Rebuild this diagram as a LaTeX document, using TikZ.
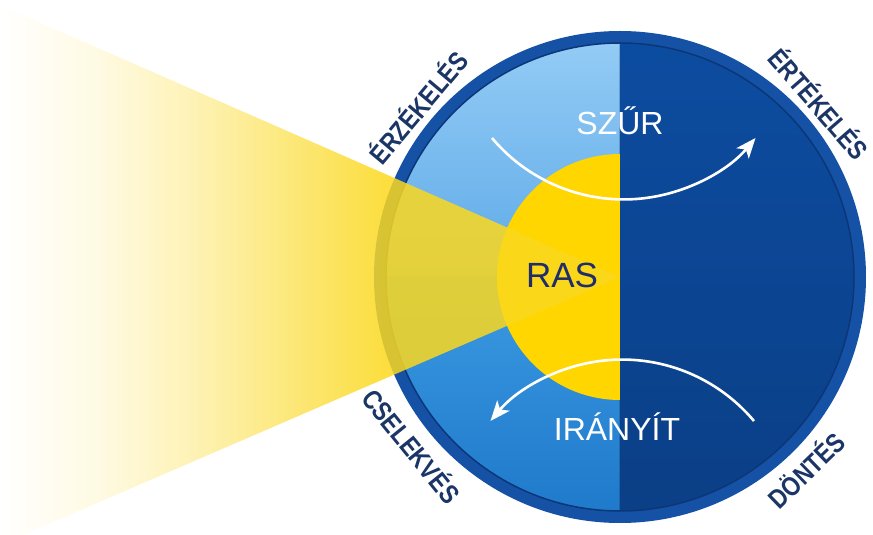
\documentclass[tikz,border=0pt]{standalone}
\usepackage{fontspec}
\setmainfont{Liberation Sans}
\newfontfamily\lblfont[FakeStretch=0.84]{Liberation Sans}
\usetikzlibrary{arrows.meta}

\definecolor{ringblue}{HTML}{1552A6}
\definecolor{ringdark}{HTML}{0B3778}
\definecolor{ulblue1}{HTML}{93CBF5}
\definecolor{ulblue2}{HTML}{5EAAE8}
\definecolor{llblue1}{HTML}{3C9AE2}
\definecolor{llblue2}{HTML}{1F7ACB}
\definecolor{rblue1}{HTML}{0C4CA0}
\definecolor{rblue2}{HTML}{0B3F86}
\definecolor{rasyellow}{HTML}{FFD600}
\definecolor{beamyellow}{HTML}{FBD81E}
\definecolor{rasnavy}{HTML}{1F2D6B}
\definecolor{labelnavy}{HTML}{1A3566}

\pgfdeclarehorizontalshading{beamshade}{100bp}{color(0bp)=(white); color(25bp)=(white);
  color(33bp)=(beamyellow!15); color(41bp)=(beamyellow!40); color(49bp)=(beamyellow!72);
  color(56bp)=(beamyellow); color(100bp)=(beamyellow)}

\begin{document}
\begin{tikzpicture}[x=1pt, y=1pt,
    flow/.style={white, line width=2.6pt, -{Stealth[length=20pt, width=16pt, inset=5pt]}},
    bigtext/.style={white, anchor=base, font=\fontsize{32}{38}\selectfont},
    lbl/.style={labelnavy, inner sep=0pt, font=\lblfont\bfseries\fontsize{27}{30}\selectfont}]
    \useasboundingbox (-620,-258) rectangle (253,277);

    \coordinate (O) at (0,0);
    \coordinate (beamtop) at (-620,272);
    \coordinate (beambot) at (-620,-268);
    \coordinate (szurL) at (-128,139);
    \coordinate (iranyR) at (134,-144);

    % disc
    \fill[ringblue] (O) circle (246pt);
    \fill[top color=ulblue1, bottom color=ulblue2] (O) -- (90:234pt)
        arc[start angle=90, end angle=180, radius=234pt] -- cycle;
    \fill[top color=llblue1, bottom color=llblue2] (O) -- (180:234pt)
        arc[start angle=180, end angle=270, radius=234pt] -- cycle;
    \fill[top color=rblue1, bottom color=rblue2] (O) -- (-90:234pt)
        arc[start angle=-90, end angle=90, radius=234pt] -- cycle;
    \draw[ringdark, line width=1.5pt] (O) circle (234pt);
    \fill[rasyellow] (O) -- (90:123pt)
        arc[start angle=90, end angle=270, radius=123pt] -- cycle;

    % beam
    \shade[shading=beamshade, opacity=0.85] (beamtop) -- (O) -- (beambot) -- cycle;

    \draw[flow] (szurL) arc[start angle=220, end angle=320, radius=172pt];
    \draw[flow] (iranyR) arc[start angle=40, end angle=140, radius=172pt];

    \node[bigtext] (szur) at (0,142) {SZŰR};
    \node[bigtext] (irany) at (-3,-163) {IRÁNYÍT};
    \node[anchor=base, rasnavy, font=\fontsize{35}{42}\selectfont] (ras) at (-58,-11) {RAS};

    \node[lbl, rotate=50] (erzekeles) at (140:265pt) {ÉRZÉKELÉS};
    \node[lbl, rotate=-49] (ertekeles) at (41:265pt) {ÉRTÉKELÉS};
    \node[lbl, rotate=-51] (cselekves) at (219:267pt) {CSELEKVÉS};
    \node[lbl, rotate=44] (dontes) at (314:267pt) {DÖNTÉS};
\end{tikzpicture}
\end{document}
